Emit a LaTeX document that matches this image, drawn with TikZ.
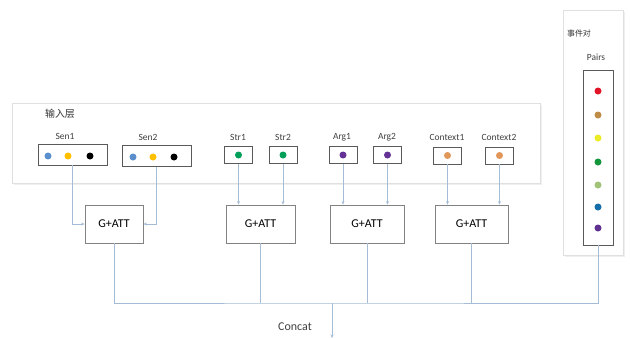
\documentclass[tikz,border=0pt]{standalone}
\usepackage{fontspec}
\setmainfont{Carlito}
\newfontfamily\cjk{Noto Sans CJK SC}
\usetikzlibrary{arrows.meta,shadows}
\definecolor{linec}{RGB}{165,188,214}
\definecolor{boxc}{RGB}{90,90,90}
\definecolor{gbox}{RGB}{130,130,130}
\definecolor{dblue}{RGB}{91,142,205}
\definecolor{dyel}{RGB}{255,192,0}
\definecolor{dgreen}{RGB}{0,160,90}
\definecolor{dpurple}{RGB}{100,50,150}
\definecolor{dorange}{RGB}{225,150,90}
\definecolor{pred}{RGB}{225,20,40}
\definecolor{pbrown}{RGB}{190,140,70}
\definecolor{pyel}{RGB}{235,235,40}
\definecolor{pgreen}{RGB}{20,150,60}
\definecolor{plgreen}{RGB}{160,195,120}
\definecolor{pblue}{RGB}{20,110,170}
\definecolor{ppurple}{RGB}{95,50,145}
\begin{document}
\begin{tikzpicture}[x=1bp,y=-1bp,
  panel/.style={draw=black!12,fill=white,line width=0.8bp,drop shadow={opacity=0.12,shadow xshift=1.5bp,shadow yshift=-1.5bp}},
  inbox/.style={draw=boxc,line width=0.9bp,minimum height=17bp,minimum width=28bp,inner sep=0pt},
  gatt/.style={draw=gbox,line width=0.8bp,minimum height=38bp,inner sep=0pt,font=\fontsize{12}{14}\selectfont},
  lbl/.style={font=\fontsize{9.5}{11}\selectfont,text=black!75,inner sep=0pt},
  dot/.style={circle,fill=#1,minimum size=7bp,inner sep=0pt},
  conn/.style={draw=linec,line width=0.8bp},
  arr/.style={conn,-{Stealth[length=3.5bp,width=3bp]}}]
\useasboundingbox[fill=white] (0,0) rectangle (630,337);
% panels
\draw[panel] (12,103) rectangle (540,183);
\draw[panel] (563,10) rectangle (623,255);
\node[font=\cjk\fontsize{10}{12}\selectfont,text=black!80,inner sep=0pt] (inlbl) at (60,114) {输入层};
\node[font=\cjk\fontsize{8}{10}\selectfont,text=black!80,inner sep=0pt] (evlbl) at (579,33) {事件对};
\node[lbl] (pairslbl) at (596,57) {Pairs};
% input boxes
\node[inbox,minimum width=69bp,minimum height=21bp] (sen1) at (72.5,154.5) {};
\node[inbox,minimum width=69bp,minimum height=21bp] (sen2) at (156.5,156) {};
\node[inbox] (str1) at (238.5,155) {};
\node[inbox] (str2) at (283,155) {};
\node[inbox] (arg1) at (343,155) {};
\node[inbox] (arg2) at (387.5,155) {};
\node[inbox] (ctx1) at (447.5,155.5) {};
\node[inbox] (ctx2) at (499.5,155.5) {};
\node[lbl] (sen1l) at (65,136) {Sen1};
\node[lbl] (sen2l) at (148,137) {Sen2};
\node[lbl] (str1l) at (238,137) {Str1};
\node[lbl] (str2l) at (283,137) {Str2};
\node[lbl] (arg1l) at (342,137) {Arg1};
\node[lbl] (arg2l) at (387,137) {Arg2};
\node[lbl] (ctx1l) at (447,137) {Context1};
\node[lbl] (ctx2l) at (499,137) {Context2};
% dots
\node[dot=dblue] (s1a) at (48,156) {};
\node[dot=dyel] (s1b) at (68,156) {};
\node[dot=black] (s1c) at (90,156) {};
\node[dot=dblue] (s2a) at (133,157) {};
\node[dot=dyel] (s2b) at (153,157) {};
\node[dot=black] (s2c) at (174,157) {};
\node[dot=dgreen] (t1) at (str1) {};
\node[dot=dgreen] (t2) at (str2) {};
\node[dot=dpurple] (a1) at (arg1) {};
\node[dot=dpurple] (a2) at (arg2) {};
\node[dot=dorange] (c1) at (ctx1) {};
\node[dot=dorange] (c2) at (ctx2) {};
% pairs
\node[inbox,minimum width=30bp,minimum height=175bp] (pairs) at (598,157.5) {};
\node[dot=pred] (p1) at (598,91) {};
\node[dot=pbrown] (p2) at (598,115) {};
\node[dot=pyel] (p3) at (598,138) {};
\node[dot=pgreen] (p4) at (598,162) {};
\node[dot=plgreen] (p5) at (598,185) {};
\node[dot=pblue] (p6) at (598,207) {};
\node[dot=ppurple] (p7) at (598,228) {};
% G+ATT
\node[gatt,minimum width=58bp] (g1) at (114,224) {G+ATT};
\node[gatt,minimum width=69bp] (g2) at (260.5,224) {G+ATT};
\node[gatt,minimum width=74bp] (g3) at (367,224) {G+ATT};
\node[gatt,minimum width=73bp] (g4) at (471.5,224) {G+ATT};
% input connectors
\draw[arr] (sen1.south) |- (g1.west);
\draw[arr] (sen2.south) |- (g1.east);
\draw[arr] (str1.south) -- (str1.south |- g2.north);
\draw[arr] (str2.south) -- (str2.south |- g2.north);
\draw[arr] (arg1.south) -- (arg1.south |- g3.north);
\draw[arr] (arg2.south) -- (arg2.south |- g3.north);
\draw[arr] (ctx1.south) -- (ctx1.south |- g4.north);
\draw[arr] (ctx2.south) -- (ctx2.south |- g4.north);
% bus
\coordinate (bus) at (332,303);
\coordinate (cend) at (332,338);
\draw[conn] (g1.south) |- (bus) -| (pairs.south);
\draw[conn] (g2.south) -- (g2.south |- bus);
\draw[conn] (g3.south) -- (g3.south |- bus);
\draw[conn] (g4.south) -- (g4.south |- bus);
\draw[arr] (bus) -- (cend);
\node[font=\fontsize{12}{14}\selectfont,text=black!75,inner sep=0pt] (concat) at (295,327) {Concat};
\end{tikzpicture}
\end{document}
